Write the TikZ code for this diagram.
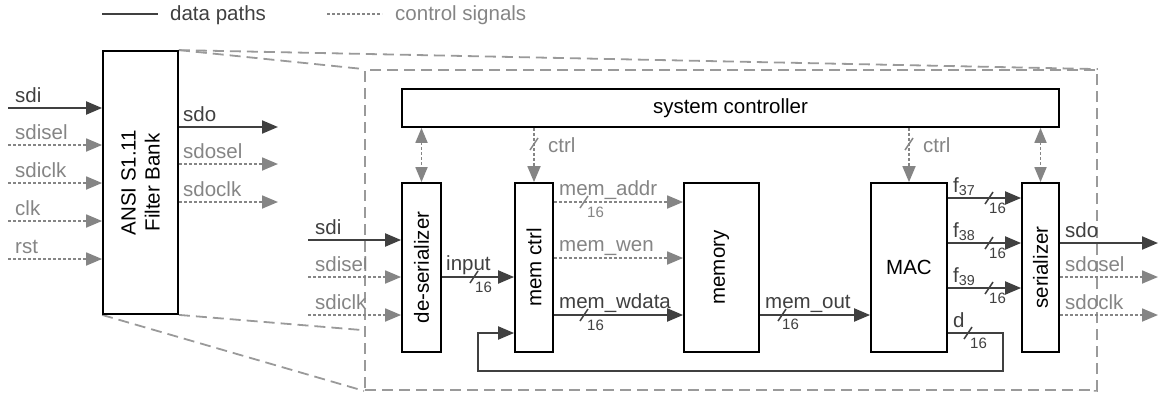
\documentclass[tikz,border=0pt]{standalone}
\usepackage{fontspec}
\setmainfont{Liberation Sans}
\usetikzlibrary{arrows.meta,calc}
\pgfdeclarelayer{background}
\pgfsetlayers{background,main}
\definecolor{dgray}{HTML}{404040}
\definecolor{lgray}{HTML}{858585}
\definecolor{zgray}{HTML}{9A9A9A}
\newcommand\lblf{\fontsize{20.5}{24}\selectfont}
\newcommand\numf{\fontsize{15}{17}\selectfont}
\tikzset{
  box/.style={draw=black, line width=1.8pt, fill=white, inner sep=0pt, font=\lblf},
  bigbox/.style={draw=zgray, line width=1.8pt, fill=white, dash pattern=on 11pt off 6pt, inner sep=0pt},
  zline/.style={draw=zgray, line width=1.8pt, dash pattern=on 11pt off 6pt},
  data/.style={draw=dgray, line width=2pt},
  ctl/.style={draw=lgray, line width=1.8pt, dash pattern=on 3pt off 2pt},
  tip/.style={-{Triangle[length=16pt,width=13pt]}},
  tipboth/.style={{Triangle[length=15pt,width=12pt]}-{Triangle[length=15pt,width=12pt]}},
  dlab/.style={text=dgray, inner sep=0pt, anchor=base west, font=\lblf},
  clab/.style={text=lgray, inner sep=0pt, anchor=base west, font=\lblf},
  dnum/.style={text=dgray, inner sep=0pt, anchor=base west, font=\numf},
  cnum/.style={text=lgray, inner sep=0pt, anchor=base west, font=\numf},
  slash/.pic={\draw[line width=1.5pt, solid] (-4,6) -- (4,-6);}
}
\begin{document}
\begin{tikzpicture}[x=1pt,y=-1pt]
\useasboundingbox (0,0) rectangle (1158,394);

% legend
\coordinate (lda) at (102,14); \coordinate (ldb) at (158,14);
\draw[data] (lda) -- (ldb);
\node[dlab] (ldt) at (170,20) {data paths};
\coordinate (lca) at (327,14); \coordinate (lcb) at (382,14);
\draw[ctl] (lca) -- (lcb);
\node[clab] (lct) at (395,20) {control signals};

% filter bank
\node[box, minimum width=75pt, minimum height=263pt] (filter) at (140.5,182.5) {};
\node[font=\lblf, rotate=90, align=center, inner sep=0pt] (ftext) at (filter.center) {ANSI S1.11\\Filter Bank};

% zoom box
\node[bigbox, minimum width=732pt, minimum height=320pt] (zoom) at (731,230) {};
\begin{pgfonlayer}{background}
\draw[zline] (filter.north east) -- (zoom.north west);
\draw[zline] (filter.north east) -- (zoom.north east);
\draw[zline] (filter.south west) -- (zoom.south west);
\draw[zline] (filter.south east) -- (zoom.south east);
\end{pgfonlayer}

% blocks
\node[box, minimum width=657pt, minimum height=38pt] (sysc) at (730.5,108) {system controller};
\node[box, minimum width=39pt, minimum height=169pt] (deser) at (421.5,267.5) {};
\node[rotate=90, font=\lblf, inner sep=0pt] (desert) at (deser.center) {de-serializer};
\node[box, minimum width=38pt, minimum height=169pt] (memctrl) at (534,267.5) {};
\node[rotate=90, font=\lblf, inner sep=0pt] (memctrlt) at (memctrl.center) {mem ctrl};
\node[box, minimum width=75pt, minimum height=169pt] (memory) at (721.5,267.5) {};
\node[rotate=90, font=\lblf, inner sep=0pt] (memoryt) at (memory.center) {memory};
\node[box, minimum width=76pt, minimum height=169pt] (mac) at (909,267.5) {MAC};
\node[box, minimum width=37pt, minimum height=169pt] (ser) at (1040.5,267.5) {};
\node[rotate=90, font=\lblf, inner sep=0pt] (sert) at (ser.center) {serializer};

% filter bank inputs
\coordinate (fi1) at (8,108);
\coordinate (fi2) at (8,145);
\coordinate (fi3) at (8,183);
\coordinate (fi4) at (8,221);
\coordinate (fi5) at (8,259);
\draw[data,tip] (fi1) -- (fi1 -| filter.west);
\draw[ctl,tip] (fi2) -- (fi2 -| filter.west);
\draw[ctl,tip] (fi3) -- (fi3 -| filter.west);
\draw[ctl,tip] (fi4) -- (fi4 -| filter.west);
\draw[ctl,tip] (fi5) -- (fi5 -| filter.west);
\node[dlab] (fi1t) at (15,102) {sdi};
\node[clab] (fi2t) at (15,139) {sdisel};
\node[clab] (fi3t) at (15,177) {sdiclk};
\node[clab] (fi4t) at (15,215) {clk};
\node[clab] (fi5t) at (15,253) {rst};

% filter bank outputs
\coordinate (fo1) at (278,127);
\coordinate (fo2) at (278,164);
\coordinate (fo3) at (278,202);
\draw[data,tip] (fo1 -| filter.east) -- (fo1);
\draw[ctl,tip] (fo2 -| filter.east) -- (fo2);
\draw[ctl,tip] (fo3 -| filter.east) -- (fo3);
\node[dlab] (fo1t) at (183,121) {sdo};
\node[clab] (fo2t) at (183,158) {sdosel};
\node[clab] (fo3t) at (183,196) {sdoclk};

% de-serializer inputs
\coordinate (di1) at (308,240);
\coordinate (di2) at (308,277);
\coordinate (di3) at (308,315);
\draw[data,tip] (di1) -- (di1 -| deser.west);
\draw[ctl,tip] (di2) -- (di2 -| deser.west);
\draw[ctl,tip] (di3) -- (di3 -| deser.west);
\node[dlab] (di1t) at (315,234) {sdi};
\node[clab] (di2t) at (315,271) {sdisel};
\node[clab] (di3t) at (315,309) {sdiclk};

% serializer outputs
\coordinate (so1) at (1158,243);
\coordinate (so2) at (1158,277);
\coordinate (so3) at (1158,315);
\draw[data,tip] (so1 -| ser.east) -- (so1);
\draw[ctl,tip] (so2 -| ser.east) -- (so2);
\draw[ctl,tip] (so3 -| ser.east) -- (so3);
\node[dlab] (so1t) at (1065,237) {sdo};
\node[clab] (so2t) at (1065,271) {sdosel};
\node[clab] (so3t) at (1065,309) {sdoclk};

% system controller links
\draw[ctl,tipboth] (deser.north |- sysc.south) -- (deser.north);
\draw[ctl,tipboth] (ser.north |- sysc.south) -- (ser.north);
\draw[ctl,tip] (memctrl.north |- sysc.south) -- (memctrl.north);
\draw[ctl,tip] (mac.north |- sysc.south) -- (mac.north);
\pic[lgray] at (534,144) {slash};
\pic[lgray] at (909,144) {slash};
\node[clab] (c1t) at (548,152) {ctrl};
\node[clab] (c2t) at (923,152) {ctrl};

% internal paths
\coordinate (yin) at (0,277);
\coordinate (yaddr) at (0,202);
\coordinate (ywen) at (0,258);
\coordinate (ywd) at (0,315);
\coordinate (yfb) at (0,333);
\coordinate (ybot) at (0,371);
\coordinate (xfbl) at (478,0);
\coordinate (xfbr) at (1003,0);
\coordinate (yf1) at (0,198);
\coordinate (yf2) at (0,243);
\coordinate (yf3) at (0,288);

\draw[data,tip] (deser.east |- yin) -- (memctrl.west |- yin);
\pic[dgray] at (474,277) {slash};
\node[dlab] (int) at (446,270) {input};
\node[dnum] (inn) at (475,292) {16};

\draw[ctl,tip] (memctrl.east |- yaddr) -- (memory.west |- yaddr);
\pic[lgray] at (584,202) {slash};
\node[clab] (addrt) at (559,195) {mem\_addr};
\node[cnum] (addrn) at (587,217) {16};

\draw[ctl,tip] (memctrl.east |- ywen) -- (memory.west |- ywen);
\node[clab] (went) at (559,251) {mem\_wen};

\draw[data,tip] (memctrl.east |- ywd) -- (memory.west |- ywd);
\pic[dgray] at (584,315) {slash};
\node[dlab] (wdt) at (559,308) {mem\_wdata};
\node[dnum] (wdn) at (587,330) {16};

\draw[data,tip] (memory.east |- ywd) -- (mac.west |- ywd);
\pic[dgray] at (782,315) {slash};
\node[dlab] (outt) at (765,308) {mem\_out};
\node[dnum] (outn) at (782,329) {16};

\draw[data,tip] (mac.east |- yf1) -- (ser.west |- yf1);
\draw[data,tip] (mac.east |- yf2) -- (ser.west |- yf2);
\draw[data,tip] (mac.east |- yf3) -- (ser.west |- yf3);
\pic[dgray] at (989,198) {slash};
\pic[dgray] at (989,243) {slash};
\pic[dgray] at (989,288) {slash};
\node[dlab] (f1t) at (953,192) {f\textsubscript{37}};
\node[dlab] (f2t) at (953,237) {f\textsubscript{38}};
\node[dlab] (f3t) at (953,282) {f\textsubscript{39}};
\node[dnum] (f1n) at (989,213) {16};
\node[dnum] (f2n) at (989,258) {16};
\node[dnum] (f3n) at (989,303) {16};

\draw[data,tip] (mac.east |- yfb) -- (xfbr |- yfb) -- (xfbr |- ybot) -- (xfbl |- ybot) -- (xfbl |- yfb) -- (memctrl.west |- yfb);
\pic[dgray] at (968,333) {slash};
\node[dlab] (dt) at (953,327) {d};
\node[dnum] (dn) at (970,348) {16};
\end{tikzpicture}
\end{document}
